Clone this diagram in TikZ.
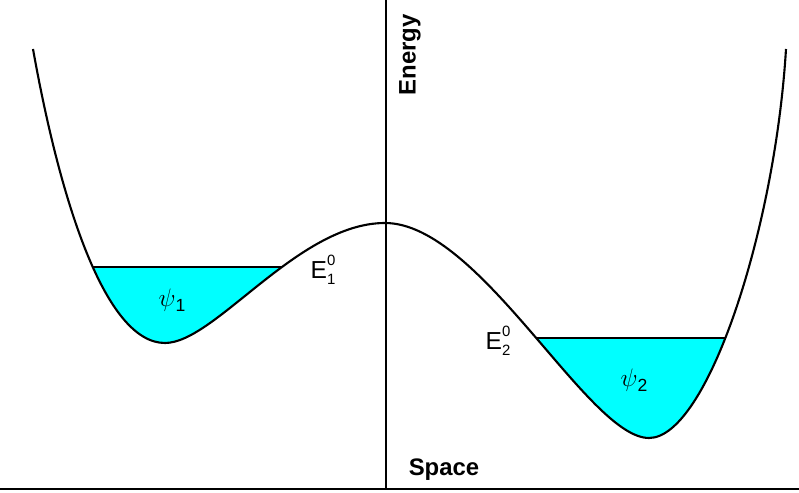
\documentclass[tikz,border=0pt]{standalone}
\usepackage{fontspec}
\setmainfont{Liberation Sans}
\usetikzlibrary{positioning}
\definecolor{cWell}{RGB}{0,255,255}
\tikzset{
  axisline/.style={line width=0.6pt,color=black},
  curveline/.style={line width=1.2pt,color=black,line join=round},
  levelline/.style={line width=1.2pt,color=black},
  wellfill/.style={fill=cWell},
  axislabel/.style={font=\fontsize{13.6}{16}\selectfont\bfseries,inner sep=0pt},
  levellabel/.style={font=\fontsize{14}{16}\selectfont,inner sep=0pt}
}
\newcommand{\potpath}{(33,49) .. controls (60,200) and (105,343) .. (165,343)
  .. controls (215,343) and (298,223) .. (385,223)
  .. controls (480,223) and (588,438) .. (649,438)
  .. controls (707,438) and (775,230) .. (786,49)}
\newcommand{\elevel}[1]{E\rlap{\raisebox{0.54em}{\fontsize{8.5}{10}\selectfont 0}}%
  \raisebox{-0.25em}{\fontsize{8.5}{10}\selectfont #1}}
\newcommand{\wavefn}[1]{$\psi$\raisebox{-0.2em}{\fontsize{10}{12}\selectfont #1}}

\begin{document}
\begin{tikzpicture}[x=0.02cm,y=-0.02cm]
  \useasboundingbox (0,0) rectangle (799,493);

  % filled wells below the two levels
  \begin{scope}
    \clip \potpath -- cycle;
    \fill[wellfill] (0,267) rectangle (386,493);
    \fill[wellfill] (386,338) rectangle (799,493);
    \draw[levelline] (0,267) -- (386,267);
    \draw[levelline] (386,338) -- (799,338);
  \end{scope}
  \draw[curveline] \potpath;

  % axes
  \coordinate (top) at (386,0);
  \coordinate (orig) at (386,489);
  \coordinate (left) at (0,489);
  \coordinate (right) at (799,489);
  \draw[axisline] (top) -- (orig);
  \draw[axisline] (left) -- (right);

  \node[axislabel,rotate=90] (energy) at (410,55) {Energy};
  \node[axislabel] (space) at (444,470) {Space};

  \node[levellabel] (e1) at (323,270) {\elevel{1}};
  \node[levellabel] (e2) at (498,341) {\elevel{2}};
  \node[levellabel] (psi1) at (172,300) {\wavefn{1}};
  \node[levellabel] (psi2) at (634,380) {\wavefn{2}};
\end{tikzpicture}
\end{document}
